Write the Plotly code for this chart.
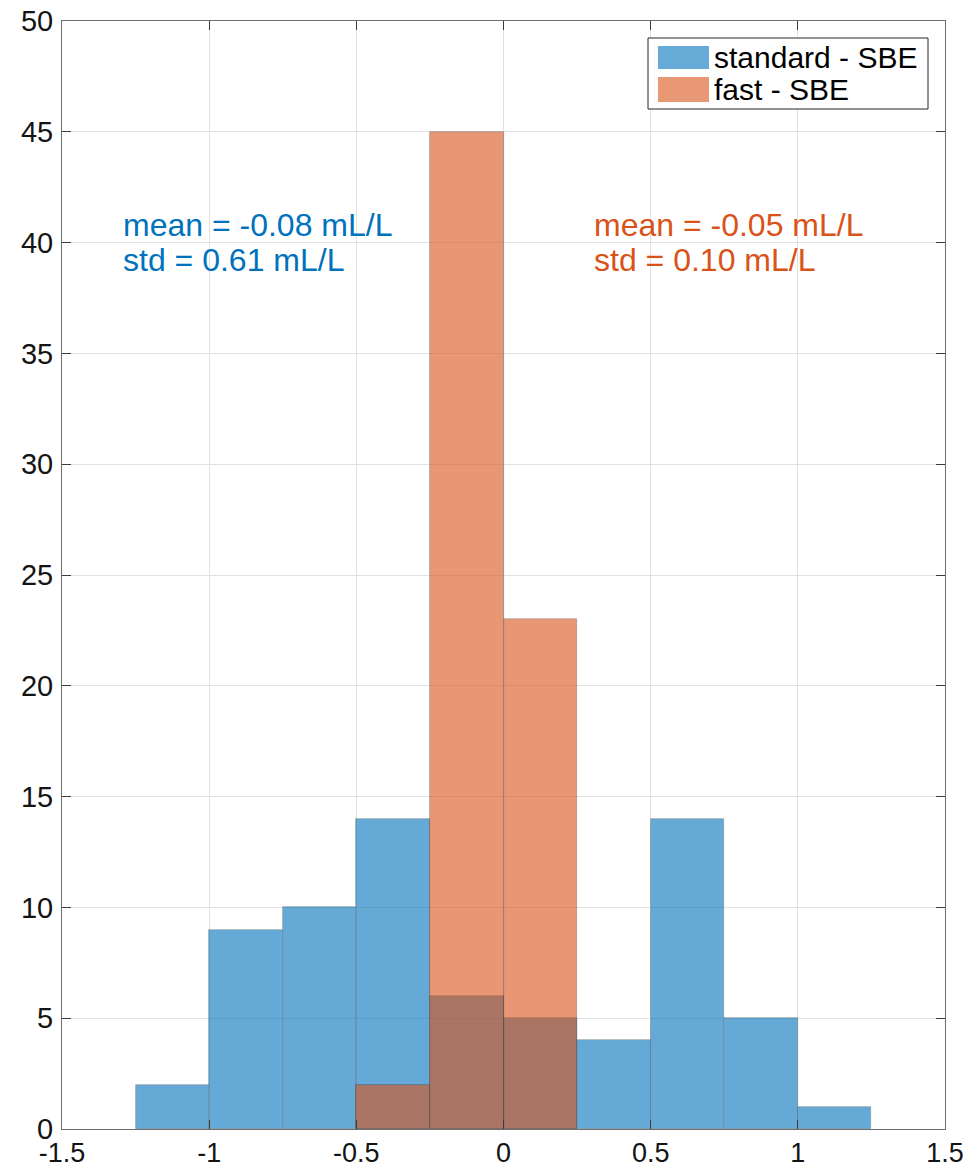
import plotly.graph_objects as go

# Histogram bins (left edges) and counts, bin width 0.25 mL/L
bin_width = 0.25
standard_edges = [-1.25, -1.0, -0.75, -0.5, -0.25, 0.0, 0.25, 0.5, 0.75, 1.0]
standard_counts = [2, 9, 10, 14, 6, 5, 4, 14, 5, 1]
fast_edges = [-0.5, -0.25, 0.0]
fast_counts = [2, 45, 23]

series_names = ["standard - SBE", "fast - SBE"]
series_colors = ["rgb(0,114,189)", "rgb(217,83,25)"]
stats_lines = [
    ["mean = -0.08 mL/L", "std = 0.61 mL/L"],
    ["mean = -0.05 mL/L", "std = 0.10 mL/L"],
]
stats_pos = [(-1.3, 40), (0.3, 40)]

x_ticks = [-1.5, -1, -0.5, 0, 0.5, 1, 1.5]
x_ticklabels = ["-1.5", "-1", "-0.5", "0", "0.5", "1", "1.5"]
y_ticks = list(range(0, 55, 5))

FONT = "Liberation Sans, Arial, Helvetica, sans-serif"
W, H = 977, 1169
ML, MR, MT, MB = 62, 32, 21, 40

fig = go.Figure()
for edges, counts, name, color in [
    (standard_edges, standard_counts, series_names[0], series_colors[0]),
    (fast_edges, fast_counts, series_names[1], series_colors[1]),
]:
    fig.add_trace(go.Bar(
        x=[e + bin_width / 2 for e in edges],
        y=counts,
        width=bin_width,
        name=name,
        marker=dict(color=color, line=dict(color="rgba(0,0,0,0.55)", width=0.7)),
        opacity=0.6,
        showlegend=False,
    ))

# Two-line stats labels, centred vertically on their anchor point
line_gap = 35
for lines, (tx, ty), color in zip(stats_lines, stats_pos, series_colors):
    for i, txt in enumerate(lines):
        fig.add_annotation(
            x=tx, y=ty, xref="x", yref="y", text=txt, showarrow=False,
            xanchor="left", yanchor="middle", align="left",
            yshift=line_gap / 2 - i * line_gap,
            font=dict(family=FONT, size=32, color=color),
        )

# Legend box drawn in pixel-derived paper coordinates
pw, ph = W - ML - MR, H - MT - MB
def px(x):
    return (x - ML) / pw
def py(y):
    return (H - MB - y) / ph

fig.add_shape(type="rect", xref="paper", yref="paper",
              x0=px(648), x1=px(928), y0=py(38), y1=py(109),
              fillcolor="white", line=dict(color="rgb(38,38,38)", width=1), layer="above")
rows = [(46, 69), (77, 102)]
for (top, bot), name, color in zip(rows, series_names, series_colors):
    fig.add_shape(type="rect", xref="paper", yref="paper",
                  x0=px(658), x1=px(709), y0=py(top), y1=py(bot),
                  fillcolor=color, opacity=0.6, line=dict(width=0), layer="above")
    fig.add_annotation(x=px(712), y=py((top + bot) / 2), xref="paper", yref="paper",
                       text=name, showarrow=False, xanchor="left", yanchor="middle",
                       font=dict(family=FONT, size=30, color="black"))

axis_common = dict(
    showline=True, linecolor="rgb(110,110,110)", linewidth=1, mirror="ticks",
    ticks="inside", ticklen=9, tickcolor="rgb(60,60,60)", tickwidth=1,
    showgrid=True, gridcolor="rgb(225,225,225)", gridwidth=1,
    zeroline=False, automargin=False,
)

fig.update_layout(
    width=W, height=H,
    margin=dict(l=ML, r=MR, t=MT, b=MB, autoexpand=False),
    paper_bgcolor="white", plot_bgcolor="white",
    barmode="overlay", bargap=0,
    xaxis=dict(range=[-1.5, 1.5], tickvals=x_ticks, ticktext=x_ticklabels,
               tickfont=dict(family=FONT, size=27, color="rgb(20,20,20)"), **axis_common),
    yaxis=dict(range=[0, 50], tickvals=y_ticks, ticklabelstandoff=2,
               tickfont=dict(family=FONT, size=29, color="rgb(20,20,20)"), **axis_common),
)

fig.write_html("out.html")
